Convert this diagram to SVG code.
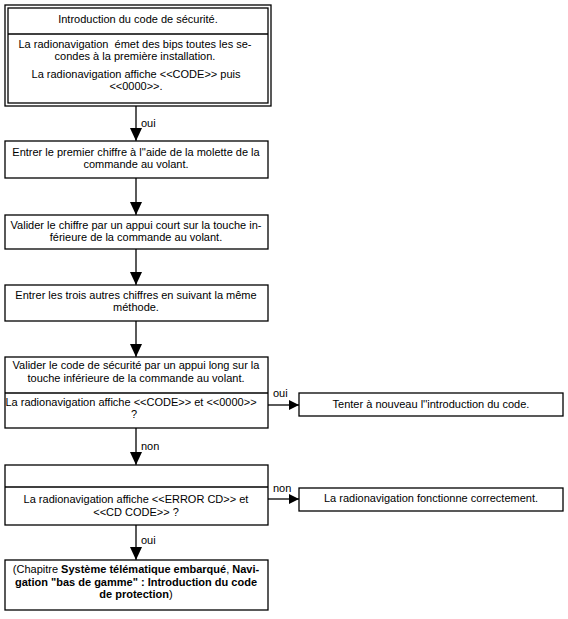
<svg xmlns="http://www.w3.org/2000/svg" width="568" height="619" viewBox="0 0 568 619">
<defs>
<style>
.box{fill:#fff;stroke:#000;stroke-width:1.3}
.ln{stroke:#000;stroke-width:1.3;fill:none}
text{font-family:"Liberation Sans",Arial,sans-serif;font-size:11px;fill:#000}
.c{text-anchor:middle}
.b{font-weight:bold}
</style>
<marker id="ah" markerWidth="10" markerHeight="10" refX="10" refY="5" orient="auto" markerUnits="userSpaceOnUse">
<path d="M0,0 L10,5 L0,10 Z" fill="#000"/>
</marker>
<marker id="av" markerWidth="12" markerHeight="14" refX="13" refY="6" orient="auto" markerUnits="userSpaceOnUse">
<path d="M0,0 L13,6 L0,12 Z" fill="#000"/>
</marker>
</defs>
<rect width="568" height="619" fill="#fff"/>
<g id="connectors">
<line class="ln" x1="136" y1="106" x2="136" y2="141" marker-end="url(#av)"/>
<text x="141" y="127">oui</text>
<line class="ln" x1="136" y1="178" x2="136" y2="215" marker-end="url(#av)"/>
<line class="ln" x1="136" y1="249" x2="136" y2="285" marker-end="url(#av)"/>
<line class="ln" x1="136" y1="321" x2="136" y2="357" marker-end="url(#av)"/>
<line class="ln" x1="268" y1="405" x2="299" y2="405" marker-end="url(#ah)"/>
<text x="273" y="397">oui</text>
<line class="ln" x1="136" y1="428" x2="136" y2="465" marker-end="url(#av)"/>
<text x="141" y="450">non</text>
<line class="ln" x1="268" y1="499" x2="299" y2="499" marker-end="url(#ah)"/>
<text x="273" y="492">non</text>
<line class="ln" x1="136" y1="525" x2="136" y2="560" marker-end="url(#av)"/>
<text x="141" y="544">oui</text>
</g>
<g id="n1">
<rect class="box" x="5" y="5" width="266" height="101"/>
<rect class="box" x="8" y="8" width="260" height="95"/>
<line class="ln" x1="8" y1="34" x2="268" y2="34"/>
<text class="c" x="138" y="23">Introduction du code de sécurité.</text>
<text class="c" x="135" y="48" xml:space="preserve">La radionavigation  émet des bips toutes les se-</text>
<text class="c" x="135" y="60">condes à la première installation.</text>
<text class="c" x="136" y="78">La radionavigation affiche &lt;&lt;CODE&gt;&gt; puis</text>
<text class="c" x="136" y="90">&lt;&lt;0000&gt;&gt;.</text>
</g>
<g id="n2">
<rect class="box" x="5" y="141" width="263" height="37"/>
<text class="c" x="136" y="156">Entrer le premier chiffre à l''aide de la molette de la</text>
<text class="c" x="136" y="168">commande au volant.</text>
</g>
<g id="n3">
<rect class="box" x="5" y="215" width="263" height="34"/>
<text class="c" x="136" y="229">Valider le chiffre par un appui court sur la touche in-</text>
<text class="c" x="136" y="241">férieure de la commande au volant.</text>
</g>
<g id="n4">
<rect class="box" x="5" y="285" width="263" height="36"/>
<text class="c" x="136" y="299">Entrer les trois autres chiffres en suivant la même</text>
<text class="c" x="136" y="311">méthode.</text>
</g>
<g id="n5">
<rect class="box" x="5" y="357" width="263" height="71"/>
<line class="ln" x1="5" y1="393" x2="268" y2="393"/>
<text class="c" x="136" y="369">Valider le code de sécurité par un appui long sur la</text>
<text class="c" x="136" y="382">touche inférieure de la commande au volant.</text>
<text class="c" x="131" y="406">La radionavigation affiche &lt;&lt;CODE&gt;&gt; et &lt;&lt;0000&gt;&gt;</text>
<text class="c" x="134" y="418">?</text>
</g>
<g id="n6">
<rect class="box" x="299" y="393" width="264" height="23"/>
<text class="c" x="431" y="408">Tenter à nouveau l''introduction du code.</text>
</g>
<g id="n7">
<rect class="box" x="5" y="465" width="263" height="60"/>
<line class="ln" x1="5" y1="487" x2="268" y2="487"/>
<text class="c" x="136" y="503">La radionavigation affiche &lt;&lt;ERROR CD&gt;&gt; et</text>
<text class="c" x="136" y="516">&lt;&lt;CD CODE&gt;&gt; ?</text>
</g>
<g id="n8">
<rect class="box" x="299" y="488" width="264" height="23"/>
<text class="c" x="431" y="502">La radionavigation fonctionne correctement.</text>
</g>
<g id="n9">
<rect class="box" x="5" y="560" width="263" height="50"/>
<text class="c" x="136" y="573">(Chapitre <tspan class="b">Système télématique embarqué</tspan>, <tspan class="b">Navi-</tspan></text>
<text class="c b" x="136" y="586">gation "bas de gamme" : Introduction du code</text>
<text class="c" x="136" y="598"><tspan class="b">de protection</tspan>)</text>
</g>
</svg>
